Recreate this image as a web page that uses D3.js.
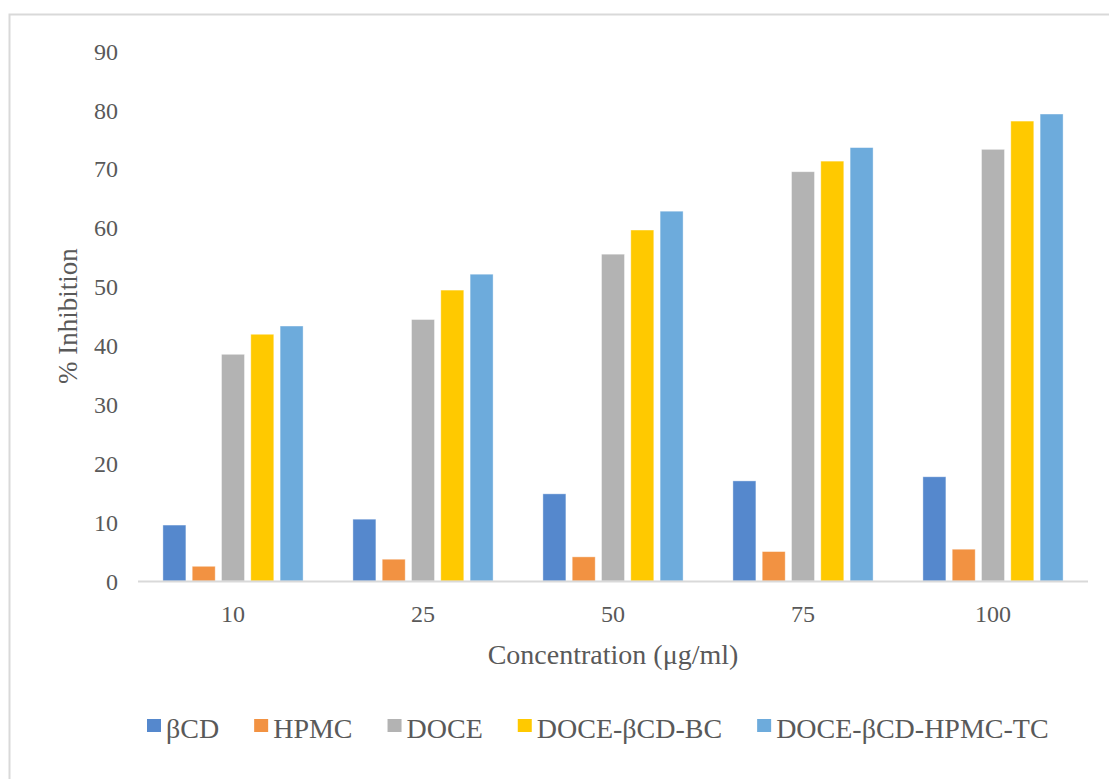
<!DOCTYPE html>
<html>
<head>
<meta charset="utf-8">
<script src="https://cdn.jsdelivr.net/npm/d3@7"></script>
<style>
  html, body { margin: 0; padding: 0; background: #fff; }
  svg { display: block; }
  text { font-family: "Liberation Serif", "Times New Roman", serif; fill: #595959; }
</style>
</head>
<body>
<svg id="chart" width="1109" height="779"></svg>
<script>
const categories = ["10", "25", "50", "75", "100"];
const seriesNames = ["βCD", "HPMC", "DOCE", "DOCE-βCD-BC", "DOCE-βCD-HPMC-TC"];
const betaCD   = [9.5, 10.5, 14.8, 17.0, 17.7];
const hpmc     = [2.5, 3.7, 4.1, 5.0, 5.4];
const doce     = [38.5, 44.4, 55.5, 69.5, 73.3];
const doceBC   = [41.9, 49.4, 59.6, 71.3, 78.1];
const doceTC   = [43.3, 52.1, 62.8, 73.6, 79.3];
const yTicks   = [0, 10, 20, 30, 40, 50, 60, 70, 80, 90];
const colors   = ["#5588CD", "#F29242", "#B3B3B3", "#FFC900", "#6DABDC"];
const xTitle = "Concentration (μg/ml)";
const yTitle = "% Inhibition";

const seriesValues = [betaCD, hpmc, doce, doceBC, doceTC];

const svg = d3.select("#chart");

// outer chart border
svg.append("rect")
  .attr("x", 9.5).attr("y", 14.5)
  .attr("width", 1120).attr("height", 800)
  .attr("fill", "none").attr("stroke", "#d9d9d9").attr("stroke-width", 2);

const plot = { left: 138, right: 1088, top: 51, bottom: 581 };

const x0 = d3.scaleBand().domain(categories).range([plot.left, plot.right]).padding(0);
const y = d3.scaleLinear().domain([0, 90]).range([plot.bottom, plot.top]);

const groupWidth = 146.5;
const x1 = d3.scaleBand().domain(seriesNames)
  .range([x0.bandwidth() / 2 - groupWidth / 2, x0.bandwidth() / 2 + groupWidth / 2])
  .paddingInner(0.215).paddingOuter(0.1075);

// bars
const groups = svg.append("g").selectAll("g")
  .data(categories).join("g")
  .attr("transform", d => `translate(${x0(d)},0)`);

groups.selectAll("rect")
  .data((c, ci) => seriesNames.map((s, si) => ({ s, si, v: seriesValues[si][ci] })))
  .join("rect")
  .attr("x", d => x1(d.s))
  .attr("width", x1.bandwidth())
  .attr("y", d => y(d.v))
  .attr("height", d => y(0) - y(d.v))
  .attr("fill", d => colors[d.si])
  .attr("stroke", "#ffffff").attr("stroke-opacity", 0.5).attr("stroke-width", 0.8);

// x axis line
svg.append("line")
  .attr("x1", plot.left).attr("x2", plot.right)
  .attr("y1", y(0) + 0.5).attr("y2", y(0) + 0.5)
  .attr("stroke", "#d9d9d9").attr("stroke-width", 2);

// x tick labels via axis
const xAxis = svg.append("g")
  .attr("transform", `translate(0,${y(0)})`)
  .call(d3.axisBottom(x0).tickSize(0).tickPadding(24));
xAxis.select(".domain").remove();
xAxis.selectAll("text")
  .attr("font-size", 24).attr("fill", "#595959")
  .style("font-family", "'Liberation Serif', serif");

// y tick labels via axis
const yAxis = svg.append("g")
  .attr("transform", `translate(118,0)`)
  .call(d3.axisLeft(y).tickValues(yTicks).tickSize(0).tickPadding(0));
yAxis.select(".domain").remove();
yAxis.selectAll("text")
  .attr("font-size", 24).attr("fill", "#595959").attr("dy", "0.34em")
  .style("font-family", "'Liberation Serif', serif");

// axis titles
svg.append("text")
  .attr("x", (plot.left + plot.right) / 2).attr("y", 664)
  .attr("text-anchor", "middle").attr("font-size", 28)
  .text(xTitle);

svg.append("text")
  .attr("transform", `translate(77,${(plot.top + plot.bottom) / 2}) rotate(-90)`)
  .attr("text-anchor", "middle").attr("font-size", 27)
  .text(yTitle);

// legend
const legend = svg.append("g");
let lx = 147;
seriesNames.forEach((name, i) => {
  const g = legend.append("g").attr("transform", `translate(${lx},0)`);
  g.append("rect").attr("x", 0).attr("y", 719).attr("width", 14).attr("height", 13).attr("fill", colors[i]);
  const t = g.append("text").attr("x", 19).attr("y", 738).attr("font-size", 28).text(name);
  const w = t.node().getComputedTextLength();
  lx += 19 + w + 35;
});
</script>
</body>
</html>
